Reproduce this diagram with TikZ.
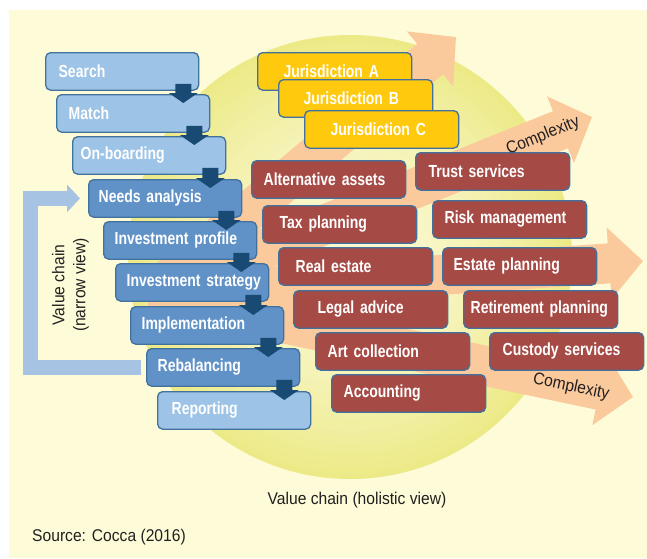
\documentclass[tikz,border=0pt]{standalone}
\usepackage{fontspec}
\newfontfamily\boxfont{Liberation Sans}[FakeStretch=0.8]
\newfontfamily\labfont{Liberation Sans}[FakeStretch=0.92]
\usetikzlibrary{arrows.meta,calc}
\definecolor{bgc}{HTML}{FEFBD8}
\definecolor{circin}{HTML}{FAF8D2}
\definecolor{circout}{HTML}{ECEA86}
\definecolor{orc}{HTML}{FACA9C}
\definecolor{loopc}{HTML}{A6C3E4}
\definecolor{lblue}{HTML}{9DC3E6}
\definecolor{dblue}{HTML}{6092C8}
\definecolor{bordc}{HTML}{41719C}
\definecolor{navyc}{HTML}{184A74}
\definecolor{redc}{HTML}{A64A45}
\definecolor{yelc}{HTML}{FFC90E}
\definecolor{txtc}{HTML}{231F20}
\newcommand\navyarr[2]{%
  \fill[navyc] let \p1=(#1.south east), \p2=(#2.north) in
    (\x1-24pt,\y1+7pt) -- (\x1-8pt,\y1+7pt) -- (\x1-8pt,\y2+1pt) -- (\x1-1.5pt,\y2+1pt)
    -- (\x1-16pt,\y2-9pt) -- (\x1-30.5pt,\y2+1pt) -- (\x1-24pt,\y2+1pt) -- cycle;}
\begin{document}
\begin{tikzpicture}[x=1pt,y=-1pt,
  box/.style={draw=bordc, line width=1.3pt, rounded corners=5pt, minimum height=37.5pt,
    minimum width=153pt, text width=153pt, inner xsep=0pt, inner ysep=0pt, align=left,
    font=\boxfont\bfseries\fontsize{17.5}{19}\selectfont, text=white, anchor=north west},
  lightb/.style={box, fill=lblue},
  darkb/.style={box, fill=dblue},
  redb/.style={box, fill=redc, minimum width=154pt, text width=154pt},
  yelb/.style={box, fill=yelc, minimum width=154pt, text width=154pt},
  lab/.style={text=txtc, font=\labfont\fontsize{17}{21}\selectfont, inner sep=0pt},
  orarrow/.style={draw=orc, line width=40pt, -{Triangle[length=34pt,width=70pt]}},
  looparrow/.style={draw=loopc, line width=15pt, -{Triangle[length=13pt,width=27pt]}}]
\useasboundingbox (0,0) rectangle (647,558);
\fill[white] (0,0) rectangle (647,558);
\fill[bgc] (9,10) rectangle (647,558);
% radial gradient disc
\foreach \i [evaluate=\i as \r using {222-4*\i},
             evaluate=\i as \p using {int(100*((222-4*\i)/222)^1.7)}] in {0,...,54}
  {\fill[circout!\p!circin] (350,257) circle[radius=\r pt];}
% complexity arrows
\coordinate (O) at (150,295);
\coordinate (TA) at (456,37);
\coordinate (TB) at (592,117);
\coordinate (TC) at (643,261);
\coordinate (TD) at (633,397);
\draw[orarrow] (O) -- (TA);
\draw[orarrow] (O) -- (TB);
\draw[orarrow] (O) -- (TC);
\draw[orarrow] (O) -- (TD);
% narrow value chain
\node[lightb] (b1) at (45,52) {\hspace*{13pt}Search};
\node[lightb] (b2) at (56,94) {\hspace*{12pt}Match};
\node[lightb] (b3) at (72,136) {\hspace*{8pt}On-boarding};
\node[darkb] (b4) at (88,179) {\hspace*{10pt}Needs analysis};
\node[darkb] (b5) at (103,221) {\hspace*{11pt}Investment profile};
\node[darkb] (b6) at (115,263) {\hspace*{11pt}Investment strategy};
\node[darkb] (b7) at (130,306) {\hspace*{11pt}Implementation};
\node[darkb] (b8) at (146,348) {\hspace*{11pt}Rebalancing};
\node[lightb] (b9) at (157,391) {\hspace*{14pt}Reporting};
\navyarr{b1}{b2}
\navyarr{b2}{b3}
\navyarr{b3}{b4}
\navyarr{b4}{b5}
\navyarr{b5}{b6}
\navyarr{b6}{b7}
\navyarr{b7}{b8}
\navyarr{b8}{b9}
% feedback loop
\coordinate (cx) at (30.5,0);
\coordinate (L1) at ([xshift=-5pt]b8.west);
\coordinate (L2) at ([xshift=-8pt]b4.west);
\draw[looparrow] (L1) -- (cx |- L1) -- (cx |- L2) -- (L2);
% jurisdictions
\node[yelb] (y1) at (257,52) {\hspace*{26pt}Jurisdiction A};
\node[yelb] (y2) at (278,79) {\hspace*{25pt}Jurisdiction B};
\node[yelb] (y3) at (304,110) {\hspace*{26pt}Jurisdiction C};
% services
\node[redb] (r1) at (251,160) {\hspace*{12pt}Alternative assets};
\node[redb] (r2) at (262,205) {\hspace*{17pt}Tax planning};
\node[redb] (r3) at (278,247) {\hspace*{17pt}Real estate};
\node[redb] (r4) at (293,290) {\hspace*{24pt}Legal advice};
\node[redb] (r5) at (315,332) {\hspace*{12pt}Art collection};
\node[redb] (r6) at (331,374) {\hspace*{12pt}Accounting};
\node[redb] (r7) at (415,152) {\hspace*{13pt}Trust services};
\node[redb] (r8) at (432,200) {\hspace*{12pt}Risk management};
\node[redb] (r9) at (442,247) {\hspace*{11pt}Estate planning};
\node[redb] (r10) at (463,290) {\hspace*{7pt}Retirement planning};
\node[redb] (r11) at (489,332) {\hspace*{13pt}Custody services};
% labels
\node[lab, rotate=22] (cpx1) at (543,136) {Complexity};
\node[lab, rotate=-12] (cpx2) at (571,387) {Complexity};
\node[lab, rotate=90, align=center] (nv) at (70.5,285) {Value chain\\(narrow view)};
\node[lab] (hv) at (357,500) {Value chain (holistic view)};
\node[lab, anchor=west] (src) at (32,537) {Source: Cocca (2016)};
\end{tikzpicture}
\end{document}
